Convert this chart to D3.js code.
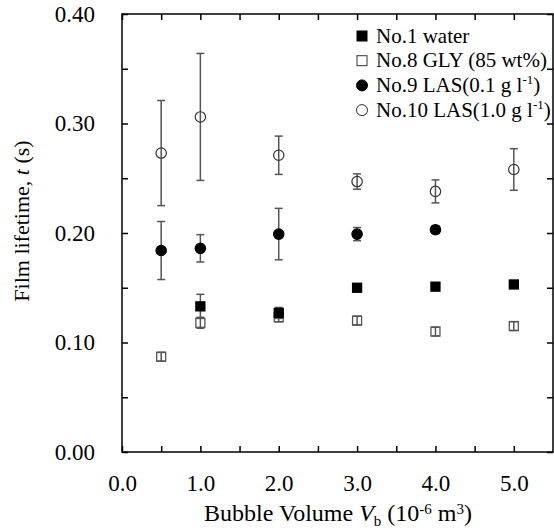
<!DOCTYPE html>
<html>
<head>
<meta charset="utf-8">
<script src="https://cdn.jsdelivr.net/npm/d3@7"></script>
<style>
  body { margin: 0; background: #fff; }
  svg text { font-family: "Liberation Serif", "Times New Roman", serif; fill: #000; }
</style>
</head>
<body>
<div id="chart"></div>
<script>
// chart data
var waterX = [1.0, 2.0, 3.0, 4.0, 5.0];
var waterY = [0.133, 0.127, 0.150, 0.151, 0.153];
var waterErr = [0.011, 0.005, 0.002, 0.002, 0.002];

var glyX = [0.5, 1.0, 2.0, 3.0, 4.0, 5.0];
var glyY = [0.087, 0.118, 0.123, 0.120, 0.110, 0.115];
var glyErr = [0.004, 0.005, 0.004, 0.004, 0.004, 0.004];

var las01X = [0.5, 1.0, 2.0, 3.0, 4.0];
var las01Y = [0.184, 0.186, 0.199, 0.199, 0.203];
var las01Err = [0.0265, 0.0125, 0.0235, 0.006, 0.003];

var las10X = [0.5, 1.0, 2.0, 3.0, 4.0, 5.0];
var las10Y = [0.273, 0.306, 0.271, 0.247, 0.238, 0.258];
var las10Err = [0.048, 0.058, 0.0175, 0.007, 0.0105, 0.019];

var xTickLabels = [0, 1, 2, 3, 4, 5];
var yTickLabels = [0, 0.1, 0.2, 0.3, 0.4];

var svgWidth = 554;
var svgHeight = 530;
var margin = { top: 14, right: 1, bottom: 78, left: 122 };
var width = svgWidth - margin.left - margin.right;
var height = svgHeight - margin.top - margin.bottom;

var svg = d3.select("#chart")
  .append("svg")
  .attr("width", svgWidth)
  .attr("height", svgHeight);

var chartGroup = svg.append("g")
  .attr("transform", `translate(${margin.left}, ${margin.top})`);

var xScale = d3.scaleLinear().domain([0, 5.5]).range([0, width]);
var yScale = d3.scaleLinear().domain([0, 0.4]).range([height, 0]);

// inward ticks on all four sides
var xTicks = d3.range(0, 11).map(function(i) { return i * 0.5; });
var yTicks = d3.range(0, 9).map(function(i) { return i * 0.05; });

function styleAxis(g) {
  g.select(".domain").remove();
  g.selectAll(".tick line").attr("stroke", "#000").attr("stroke-width", 1.5);
  g.selectAll(".tick text").style("font-size", "23px").attr("fill", "#000");
}

chartGroup.append("g")
  .attr("transform", `translate(0, ${height})`)
  .call(d3.axisBottom(xScale).tickValues(xTicks).tickSizeInner(-6).tickSizeOuter(0).tickPadding(23)
    .tickFormat(function(d) { return xTickLabels.indexOf(d) >= 0 ? d3.format(".1f")(d) : ""; }))
  .call(styleAxis);

chartGroup.append("g")
  .call(d3.axisTop(xScale).tickValues(xTicks).tickSizeInner(-6).tickSizeOuter(0).tickFormat(""))
  .call(styleAxis);

chartGroup.append("g")
  .call(d3.axisLeft(yScale).tickValues(yTicks).tickSizeInner(-6).tickSizeOuter(0).tickPadding(27)
    .tickFormat(function(d) {
      var hit = yTickLabels.some(function(v) { return Math.abs(v - d) < 1e-9; });
      return hit ? d3.format(".2f")(d) : "";
    }))
  .call(styleAxis);

chartGroup.append("g")
  .attr("transform", `translate(${width}, 0)`)
  .call(d3.axisRight(yScale).tickValues(yTicks).tickSizeInner(-6).tickSizeOuter(0).tickFormat(""))
  .call(styleAxis);

// plot frame
chartGroup.append("rect")
  .attr("x", 0).attr("y", 0)
  .attr("width", width).attr("height", height)
  .attr("fill", "none")
  .attr("stroke", "#000")
  .attr("stroke-width", 1.5);

function makeRows(xs, ys, es) {
  return xs.map(function(x, i) { return { x: x, y: ys[i], e: es[i] }; });
}

var series = [
  { name: "gly", rows: makeRows(glyX, glyY, glyErr), shape: "square", fill: "none", stroke: "#555" },
  { name: "water", rows: makeRows(waterX, waterY, waterErr), shape: "square", fill: "#000", stroke: "#000" },
  { name: "las01", rows: makeRows(las01X, las01Y, las01Err), shape: "circle", fill: "#000", stroke: "#000" },
  { name: "las10", rows: makeRows(las10X, las10Y, las10Err), shape: "circle", fill: "none", stroke: "#333" }
];

var capW = 4;

series.forEach(function(s) {
  var g = chartGroup.append("g").attr("class", s.name);

  // error bars
  var eb = g.selectAll(".err").data(s.rows).enter().append("g").attr("class", "err")
    .attr("stroke", "#555").attr("stroke-width", 1.5);
  eb.append("line")
    .attr("x1", function(d) { return xScale(d.x); })
    .attr("x2", function(d) { return xScale(d.x); })
    .attr("y1", function(d) { return yScale(d.y + d.e); })
    .attr("y2", function(d) { return yScale(d.y - d.e); });
  eb.append("line")
    .attr("x1", function(d) { return xScale(d.x) - capW; })
    .attr("x2", function(d) { return xScale(d.x) + capW; })
    .attr("y1", function(d) { return yScale(d.y + d.e); })
    .attr("y2", function(d) { return yScale(d.y + d.e); });
  eb.append("line")
    .attr("x1", function(d) { return xScale(d.x) - capW; })
    .attr("x2", function(d) { return xScale(d.x) + capW; })
    .attr("y1", function(d) { return yScale(d.y - d.e); })
    .attr("y2", function(d) { return yScale(d.y - d.e); });

  // markers
  if (s.shape === "square") {
    g.selectAll(".pt").data(s.rows).enter().append("rect").attr("class", "pt")
      .attr("x", function(d) { return xScale(d.x) - 4.5; })
      .attr("y", function(d) { return yScale(d.y) - 4.5; })
      .attr("width", 9).attr("height", 9)
      .attr("fill", s.fill).attr("stroke", s.stroke).attr("stroke-width", 1.3);
  } else {
    g.selectAll(".pt").data(s.rows).enter().append("circle").attr("class", "pt")
      .attr("cx", function(d) { return xScale(d.x); })
      .attr("cy", function(d) { return yScale(d.y); })
      .attr("r", 5.2)
      .attr("fill", s.fill).attr("stroke", s.stroke).attr("stroke-width", 1.2);
  }
});

// legend
var legendItems = [
  { shape: "square", fill: "#000", stroke: "#000", parts: [["No.1 water", 0]] },
  { shape: "square", fill: "none", stroke: "#333", parts: [["No.8 GLY (85 wt%)", 0]] },
  { shape: "circle", fill: "#000", stroke: "#000", parts: [["No.9 LAS(0.1 g l", 0], ["-1", 1], [")", 0]] },
  { shape: "circle", fill: "none", stroke: "#333", parts: [["No.10 LAS(1.0 g l", 0], ["-1", 1], [")", 0]] }
];

var legend = svg.append("g").attr("class", "legend");
legendItems.forEach(function(item, i) {
  var base = 42.5 + i * 24.7;
  var mx = 362, my = base - 6.5;
  if (item.shape === "square") {
    legend.append("rect")
      .attr("x", mx - 5).attr("y", my - 5).attr("width", 10).attr("height", 10)
      .attr("fill", item.fill).attr("stroke", item.stroke).attr("stroke-width", 1);
  } else {
    legend.append("circle")
      .attr("cx", mx).attr("cy", my).attr("r", 5.5)
      .attr("fill", item.fill).attr("stroke", item.stroke).attr("stroke-width", 1);
  }
  var t = legend.append("text").attr("x", 376).attr("y", base).style("font-size", "21px");
  item.parts.forEach(function(p) {
    if (p[1]) {
      t.append("tspan").attr("dy", -8).style("font-size", "13px").text(p[0]);
    } else {
      var ts = t.append("tspan").text(p[0]);
      if (t.selectAll("tspan").size() > 1) ts.attr("dy", 8);
    }
  });
});

// y-axis title
var yTitle = svg.append("text")
  .attr("transform", "rotate(-90)")
  .attr("x", -221)
  .attr("y", 29)
  .attr("text-anchor", "middle")
  .style("font-size", "22px");
yTitle.append("tspan").text("Film lifetime, ");
yTitle.append("tspan").style("font-style", "italic").text("t");
yTitle.append("tspan").text(" (s)");

// x-axis title
var xTitle = svg.append("text")
  .attr("x", 338)
  .attr("y", 521)
  .attr("text-anchor", "middle")
  .style("font-size", "24px");
xTitle.append("tspan").text("Bubble Volume ");
xTitle.append("tspan").style("font-style", "italic").text("V");
xTitle.append("tspan").attr("dy", 5).style("font-size", "15px").text("b");
xTitle.append("tspan").attr("dy", -5).text(" (10");
xTitle.append("tspan").attr("dy", -7).style("font-size", "15px").text("-6");
xTitle.append("tspan").attr("dy", 7).text(" m");
xTitle.append("tspan").attr("dy", -7).style("font-size", "15px").text("3");
xTitle.append("tspan").attr("dy", 7).text(")");
</script>
</body>
</html>
